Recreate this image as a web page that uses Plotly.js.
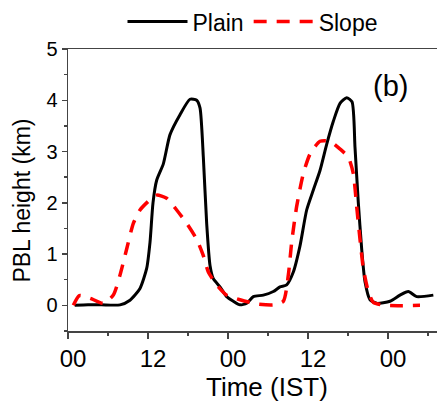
<!DOCTYPE html>
<html>
<head>
<meta charset="utf-8">
<script src="https://cdn.plot.ly/plotly-3.0.1.min.js"></script>
<style>html,body{margin:0;padding:0;background:#fff;}#chart{width:437px;height:405px;}</style>
</head>
<body>
<div id="chart"></div>
<script>
// Time in hours from the first 00 IST
var timePlain = [1.0, 3, 5, 7.8, 9.3, 10.8, 11.8, 12.3, 12.75, 13.3, 14.3, 15.3, 16.8, 18.3, 19.3, 19.8, 20.3, 20.8, 21.3, 21.8, 22.8, 23.8, 24.8, 25.8, 26.8, 27.8, 29.3, 30.8, 31.8, 32.8, 33.8, 34.8, 35.8, 36.8, 37.8, 38.8, 39.8, 40.8, 41.8, 42.6, 43.05, 43.55, 44.05, 44.55, 45.3, 46.3, 48.3, 49.8, 51.05, 52.3, 54.8];
var plainHeight = [0, 0.01, 0.01, 0.01, 0.1, 0.33, 0.72, 1.23, 2.0, 2.44, 2.76, 3.33, 3.72, 4.02, 4.0, 3.85, 2.89, 1.6, 0.78, 0.52, 0.36, 0.17, 0.08, 0.01, 0.04, 0.17, 0.2, 0.27, 0.36, 0.4, 0.65, 1.16, 1.86, 2.25, 2.63, 3.14, 3.59, 3.94, 4.05, 3.97, 3.08, 2.0, 1.1, 0.46, 0.11, 0.04, 0.08, 0.2, 0.27, 0.17, 0.2];

var timeSlope = [0.8, 1.7, 3.3, 5.3, 6.8, 7.8, 8.8, 9.8, 10.8, 12.3, 13.3, 14.8, 16.3, 17.8, 19.3, 20.3, 21.05, 22.3, 23.8, 25.8, 28.3, 30.8, 32.3, 33.05, 33.55, 34.3, 35.3, 36.3, 37.8, 39.3, 40.8, 42.05, 42.8, 43.3, 43.8, 44.3, 45.05, 45.8, 47.8, 52.8];
var slopeHeight = [0, 0.19, 0.14, 0.04, 0.2, 0.59, 1.1, 1.6, 1.86, 2.06, 2.15, 2.09, 1.86, 1.6, 1.29, 0.97, 0.65, 0.4, 0.2, 0.11, 0.03, 0.01, 0.08, 0.59, 1.23, 1.93, 2.57, 2.95, 3.2, 3.2, 3.05, 2.89, 2.57, 1.93, 1.29, 0.72, 0.27, 0.06, 0, 0];

var xTickVals = [0, 12, 24, 36, 48];
var xTickText = ["00", "12", "00", "12", "00"];
var yTickVals = [0, 1, 2, 3, 4, 5];
var yTickText = ["0", "1", "2", "3", "4", "5"];

var seriesNames = ["Plain", "Slope"];
var xTitle = "Time (IST)";
var yTitle = "PBL height (km)";
var panelLabel = "(b)";

var FONT = "Liberation Sans, Arial, Helvetica, sans-serif";

var traces = [
  {x: timePlain, y: plainHeight, name: seriesNames[0], type: "scatter", mode: "lines",
   line: {color: "#000000", width: 3, shape: "spline", smoothing: 0.6}},
  {x: timeSlope, y: slopeHeight, name: seriesNames[1], type: "scatter", mode: "lines",
   line: {color: "#ff0000", width: 3.5, dash: "13px,10px", shape: "spline", smoothing: 0.6}}
];

var layout = {
  width: 437, height: 405,
  margin: {l: 68, r: 0, t: 43, b: 74},
  paper_bgcolor: "#ffffff", plot_bgcolor: "#ffffff",
  font: {family: FONT, color: "#000000"},
  showlegend: true,
  legend: {orientation: "h", x: 0.5, xanchor: "center", y: 1.097, yanchor: "middle",
           font: {family: FONT, size: 23, color: "#000"}, bgcolor: "rgba(0,0,0,0)",
           itemwidth: 60, tracegroupgap: 0},
  xaxis: {range: [0, 55.35], showgrid: false, zeroline: false,
          showline: true, linecolor: "#444", linewidth: 1.5, mirror: true,
          ticks: "outside", ticklen: 6, tickwidth: 1.5, tickcolor: "#444",
          tickvals: xTickVals, ticktext: xTickText,
          tickfont: {family: FONT, size: 24, color: "#000"}, ticklabelshift: 5,
          minor: {dtick: 6, tick0: 0, ticks: "outside", ticklen: 3.5, tickwidth: 1.5, tickcolor: "#444", showgrid: false}},
  yaxis: {range: [-0.5, 5], showgrid: false, zeroline: false,
          showline: true, linecolor: "#444", linewidth: 1.5, mirror: false,
          ticks: "outside", ticklen: 5, tickwidth: 1.5, tickcolor: "#444",
          tickvals: yTickVals, ticktext: yTickText,
          tickfont: {family: FONT, size: 20, color: "#000"},
          minor: {dtick: 0.5, tick0: 0, ticks: "outside", ticklen: 3, tickwidth: 1.5, tickcolor: "#444", showgrid: false}},
  annotations: [
    {text: panelLabel, xref: "paper", yref: "paper", x: 0.875, y: 0.868, xanchor: "center", yanchor: "middle",
     showarrow: false, font: {family: FONT, size: 29, color: "#000"}},
    {text: xTitle, xref: "paper", yref: "paper", x: 0.538, y: -0.198, xanchor: "center", yanchor: "middle",
     showarrow: false, font: {family: FONT, size: 26, color: "#000"}},
    {text: yTitle, xref: "paper", yref: "paper", x: -0.125, y: 0.462, xanchor: "center", yanchor: "middle",
     textangle: -90, showarrow: false, font: {family: FONT, size: 23, color: "#000"}}
  ]
};

Plotly.newPlot("chart", traces, layout, {staticPlot: true, displayModeBar: false});
</script>
</body>
</html>
